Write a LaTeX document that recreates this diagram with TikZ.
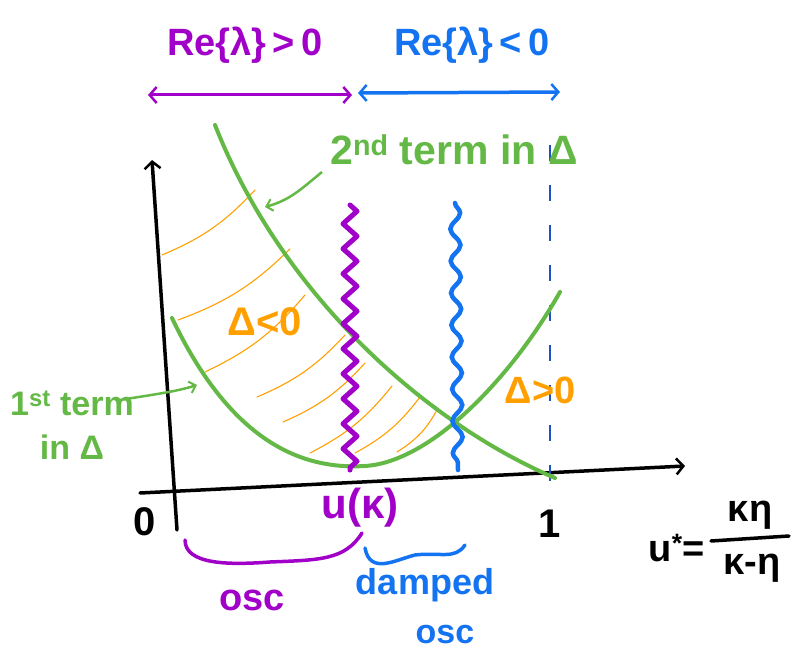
\documentclass[tikz,border=0pt]{standalone}
\usepackage{fontspec}
\setmainfont{Liberation Sans}
\usetikzlibrary{arrows.meta,decorations.pathmorphing}
\definecolor{gr}{RGB}{100,185,70}
\definecolor{pu}{RGB}{160,0,200}
\definecolor{bl}{RGB}{20,115,240}
\definecolor{dbl}{RGB}{30,80,200}
\definecolor{orng}{RGB}{255,160,0}
\tikzset{
  axisline/.style={line width=3.5pt, black, line cap=round},
  curve/.style={line width=4pt, gr, line cap=round},
  barb/.tip={Straight Barb[length=7pt,width=16pt,line width=2.5pt]},
  sbarb/.tip={Straight Barb[length=6pt,width=12pt,line width=2pt]},
  lbl/.style={inner sep=0pt, font=\bfseries\fontsize{34}{38}\selectfont},
  hatch/.style={orng, line width=1.1pt, line cap=round},
}
\begin{document}
\begin{tikzpicture}[x=1pt,y=-1pt]
\useasboundingbox (0,0) rectangle (801,671);

% hatching strokes in the region Delta<0
\draw[hatch] (162,255) to[bend right=12] (255,190);
\draw[hatch] (178,320) to[bend right=12] (290,249);
\draw[hatch] (205,372) to[bend right=12] (305,295);
\draw[hatch] (257,397) to[bend right=12] (345,335);
\draw[hatch] (283,422) to[bend right=12] (365,363);
\draw[hatch] (310,453) to[bend right=12] (392,386);
\draw[hatch] (355,453) to[bend right=12] (420,397);
\draw[hatch] (397,452) to[bend right=15] (438,408);

% axes
\coordinate (ybot) at (177,530);
\coordinate (ytop) at (152,160);
\coordinate (xl) at (140,493);
\coordinate (xr) at (685,466);
\draw[axisline, -barb] (ybot) -- (ytop);
\draw[axisline, -barb] (xl) -- (xr);

% dashed line at 1
\coordinate (d1) at (550,145);
\coordinate (d2) at (550,505);
\draw[dbl, line width=1.6pt, dash pattern=on 16pt off 24pt] (d1) -- (d2);

% curves
\draw[curve] (215,125) .. controls (280,290) and (420,420) .. (555,478);
\draw[curve] (172,318) .. controls (230,440) and (300,470) .. (365,466) .. controls (430,462) and (510,380) .. (560,292);

% zigzag and wavy lines
\coordinate (pz1) at (350,205);
\coordinate (pz2) at (350,470);
\draw[pu, line width=5pt, line join=round, line cap=round, decorate, decoration={zigzag, amplitude=7pt, segment length=25pt}] (pz1) -- (pz2);
\coordinate (bw1) at (455,203);
\coordinate (bw2) at (458,470);
\draw[bl, line width=4.5pt, line cap=round, decorate, decoration={snake, amplitude=5pt, segment length=32pt}] (bw1) -- (bw2);

% top arrows
\coordinate (pa1) at (148,95);
\coordinate (pa2) at (352,95);
\coordinate (ba1) at (358,93);
\coordinate (ba2) at (560,92);
\draw[pu, line width=3pt, barb-barb] (pa1) -- (pa2);
\draw[bl, line width=3.5pt, barb-barb] (ba1) -- (ba2);

% labels
\node[lbl, pu] (rep) at (245,45) {\fontsize{38}{42}\selectfont Re\{λ\}\,>\,0};
\node[lbl, bl] (ren) at (472,45) {\fontsize{38}{42}\selectfont Re\{λ\}\,<\,0};
\node[lbl, gr, anchor=west] (t2) at (330,150) {\fontsize{41}{44}\selectfont 2\textsuperscript{nd} term in Δ};
\node[lbl, gr, align=center] (t1) at (72,425) {1\textsuperscript{st} term\\[6pt]in Δ};
\node[lbl, orng] (dneg) at (265,322) {\fontsize{40}{44}\selectfont Δ<0};
\node[lbl, orng] (dpos) at (540,390) {\fontsize{38}{42}\selectfont Δ>0};
\node[lbl, pu] (uk) at (360,508) {\fontsize{42}{46}\selectfont u(κ)};
\node[lbl, black] (zero) at (145,522) {\fontsize{40}{44}\selectfont 0};
\node[lbl, black] (one) at (550,524) {\fontsize{40}{44}\selectfont 1};
\node[lbl, black, anchor=east] (ustar) at (705,548) {\fontsize{38}{42}\selectfont u\textsuperscript{*}=};
\node[lbl, black] (num) at (750,515) {\fontsize{38}{42}\selectfont κη};
\node[lbl, black] (den) at (752,568) {\fontsize{38}{42}\selectfont κ-η};
\coordinate (fb1) at (711,541);
\coordinate (fb2) at (789,536);
\draw[line width=3.5pt, line cap=round] (fb1) -- (fb2);
\node[lbl, pu] (osc) at (252,600) {\fontsize{38}{42}\selectfont osc};
\node[lbl, bl] (dosc1) at (425,585) {\fontsize{36}{40}\selectfont damped};
\node[lbl, bl] (dosc2) at (445,635) {osc};

% label arrows
\coordinate (c2) at (265,207);
\coordinate (s2) at (322,172);
\draw[gr, line width=2.5pt, -sbarb] (s2) .. controls (300,190) and (290,200) .. (c2);
\coordinate (c1) at (197,385);
\coordinate (s1) at (120,400);
\draw[gr, line width=2.5pt, -sbarb] (s1) .. controls (150,395) and (175,392) .. (c1);

% braces under axis
\coordinate (pb1) at (185,540);
\coordinate (pb2) at (362,533);
\draw[pu, line width=3.5pt, line cap=round] (pb1) .. controls (185,565) and (230,565) .. (270,562) .. controls (320,560) and (345,560) .. (pb2);
\coordinate (bb1) at (365,548);
\coordinate (bb2) at (465,545);
\draw[bl, line width=3.5pt, line cap=round] (bb1) .. controls (370,575) and (395,560) .. (415,555) .. controls (440,552) and (455,560) .. (bb2);
\end{tikzpicture}
\end{document}
